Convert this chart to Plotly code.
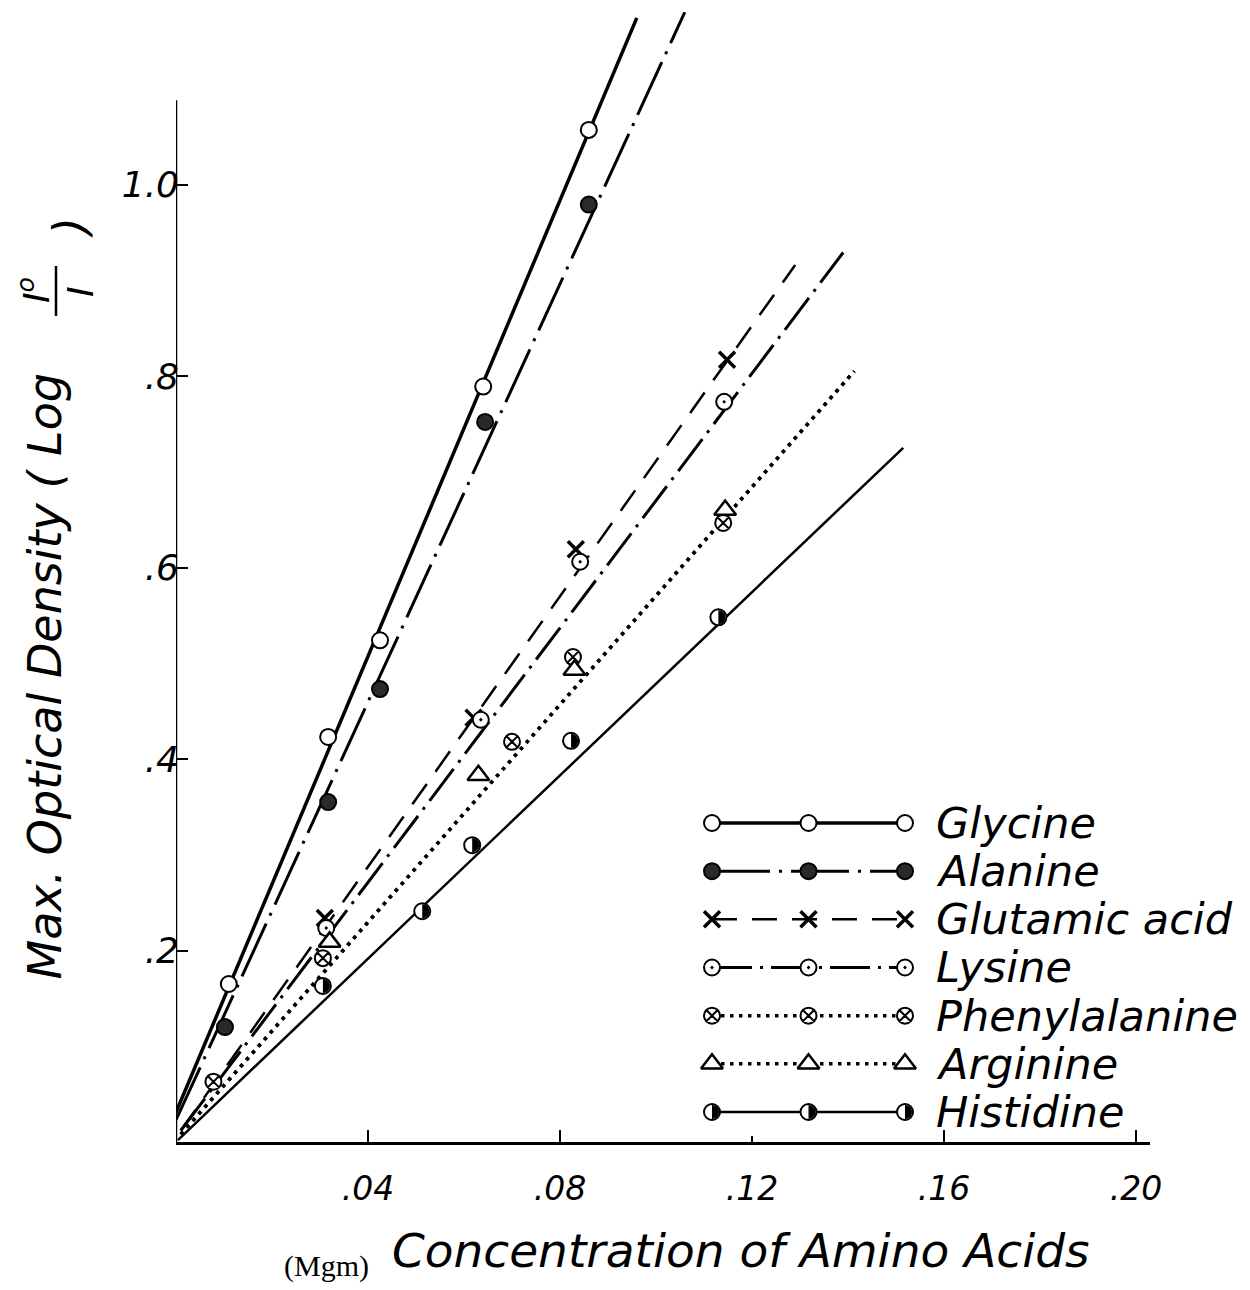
import math
import plotly.graph_objects as go

# ---------------- data ----------------
series_names = ["Glycine", "Alanine", "Glutamic acid", "Lysine",
                "Phenylalanine", "Arginine", "Histidine"]

glycine_x = [0.011, 0.0317, 0.0425, 0.064, 0.086]
glycine_y = [0.165, 0.423, 0.524, 0.789, 1.057]
alanine_x = [0.0102, 0.0317, 0.0425, 0.0644, 0.086]
alanine_y = [0.120, 0.355, 0.473, 0.752, 0.979]
glutamic_x = [0.031, 0.062, 0.0833, 0.1148]
glutamic_y = [0.234, 0.443, 0.619, 0.817]
lysine_x = [0.0313, 0.0635, 0.0842, 0.1142]
lysine_y = [0.2235, 0.441, 0.606, 0.773]
phenyl_x = [0.0078, 0.0306, 0.070, 0.0827, 0.114]
phenyl_y = [0.063, 0.192, 0.418, 0.5065, 0.6465]
arginine_x = [0.032, 0.063, 0.083, 0.1144]
arginine_y = [0.209, 0.383, 0.493, 0.660]
histidine_x = [0.0306, 0.0513, 0.0617, 0.0823, 0.113]
histidine_y = [0.163, 0.241, 0.310, 0.419, 0.548]

# drawn straight lines (end points)
glycine_fit_x, glycine_fit_y = [0.0, 0.096], [0.031, 1.174]
alanine_fit_x, alanine_fit_y = [0.0, 0.106], [0.023, 1.180]
glutamic_fit_x, glutamic_fit_y = [0.001, 0.129], [0.012, 0.916]
lysine_fit_x, lysine_fit_y = [0.001, 0.139], [0.012, 0.929]
phenyl_fit_x, phenyl_fit_y = [0.001, 0.1413], [0.008, 0.805]
arginine_fit_x, arginine_fit_y = [0.001, 0.1413], [0.008, 0.805]
histidine_fit_x, histidine_fit_y = [0.0004, 0.1515], [0.002, 0.725]

x_tick_vals = [0.04, 0.08, 0.12, 0.16, 0.20]
x_tick_text = [".04", ".08", ".12", ".16", ".20"]
y_tick_vals = [0.2, 0.4, 0.6, 0.8, 1.0]
y_tick_text = [".2", ".4", ".6", ".8", "1.0"]
y_axis_top = 1.088

# ---------------- layout geometry ----------------
W, H = 1250, 1290
OFF = 8  # page offset of the plot div
ML, MR, MT, MB = 168, 108, 4, 156
PW, PH = W - ML - MR, H - MT - MB
X_PX_PER_UNIT = 4800.0
Y_PX_PER_UNIT = 957.5
X_MAX = PW / X_PX_PER_UNIT
Y_MAX = PH / Y_PX_PER_UNIT


def px(x):
    return (x - OFF - ML) / PW


def py(y):
    return (H - MB - (y - OFF)) / PH


FONT = "DejaVu Sans"
INK = "black"

styles = {
    "Glycine": dict(dash="solid", width=3.5,
                    marker=dict(symbol="circle", size=16, color="white",
                                line=dict(color=INK, width=2))),
    "Alanine": dict(dash="58px,9px,3px,9px", width=3,
                    marker=dict(symbol="circle", size=16, color="#2a2a2a",
                                line=dict(color=INK, width=2))),
    "Glutamic acid": dict(dash="25px,15px", width=2.5,
                          marker=dict(symbol="x-thin", size=16,
                                      line=dict(color=INK, width=3.5))),
    "Lysine": dict(dash="40px,8px,3px,8px", width=3,
                   marker=dict(symbol="circle-dot", size=16, color="white",
                               line=dict(color=INK, width=2))),
    "Phenylalanine": dict(dash="3.5px,5.5px", width=3.5,
                          marker=dict(symbol="circle-x", size=16, color="white",
                                      line=dict(color=INK, width=2))),
    "Arginine": dict(dash="3.5px,5.5px", width=3.5,
                     marker=dict(symbol="triangle-up", size=19, color="white",
                                 line=dict(color=INK, width=2.5))),
    # half-filled circle: white circle, right half blacked in (see below)
    "Histidine": dict(dash="solid", width=2.5,
                      marker=dict(symbol="circle", size=16, color="white",
                                  line=dict(color=INK, width=2))),
}
HALF_R = 7.0  # radius (px) of the blacked-in half

points = {
    "Glycine": (glycine_x, glycine_y),
    "Alanine": (alanine_x, alanine_y),
    "Glutamic acid": (glutamic_x, glutamic_y),
    "Lysine": (lysine_x, lysine_y),
    "Phenylalanine": (phenyl_x, phenyl_y),
    "Arginine": (arginine_x, arginine_y),
    "Histidine": (histidine_x, histidine_y),
}
fits = {
    "Glycine": (glycine_fit_x, glycine_fit_y),
    "Alanine": (alanine_fit_x, alanine_fit_y),
    "Glutamic acid": (glutamic_fit_x, glutamic_fit_y),
    "Lysine": (lysine_fit_x, lysine_fit_y),
    "Phenylalanine": (phenyl_fit_x, phenyl_fit_y),
    "Arginine": (arginine_fit_x, arginine_fit_y),
    "Histidine": (histidine_fit_x, histidine_fit_y),
}

fig = go.Figure()


def half_disk(xc, yc, sx, sy, xref, yref):
    """Right half of a disk around a data point, sized in pixels."""
    n = 16
    pts = []
    for k in range(n + 1):
        t = -math.pi / 2 + math.pi * k / n
        pts.append((xc + HALF_R * math.cos(t) / sx, yc + HALF_R * math.sin(t) / sy))
    path = "M " + " L ".join(f"{a:.6f},{b:.6f}" for a, b in pts) + " Z"
    fig.add_shape(type="path", path=path, xref=xref, yref=yref,
                  fillcolor=INK, line=dict(width=0), layer="above")


def add_points(xs, ys, name, sx, sy, xref="x", yref="y", **axes):
    fig.add_trace(go.Scatter(x=xs, y=ys, mode="markers", name=name,
                             marker=styles[name]["marker"], cliponaxis=False,
                             showlegend=False, **axes))
    if name == "Histidine":
        for xc, yc in zip(xs, ys):
            half_disk(xc, yc, sx, sy, xref, yref)


# lines first
for name in series_names:
    st = styles[name]
    fx, fy = fits[name]
    fig.add_trace(go.Scatter(x=fx, y=fy, mode="lines", name=name,
                             line=dict(color=INK, width=st["width"], dash=st["dash"]),
                             showlegend=False, hoverinfo="skip"))

# then points
for name in series_names:
    xs, ys = points[name]
    add_points(xs, ys, name, X_PX_PER_UNIT, Y_PX_PER_UNIT)

# ---------------- hand-drawn style legend (own small axes) ----------------
leg_pos = [0.0, 0.5, 1.0]
LEG_X0, LEG_X1 = 712, 905      # page px of first / last legend marker
LEG_Y0, LEG_Y1 = 823, 1112     # page px of first / last legend row
n_rows = len(series_names)
leg_sx = (LEG_X1 - LEG_X0) / 1.0
leg_sy = (LEG_Y1 - LEG_Y0) / (n_rows - 1)
PADX, PADY = 0.1, 0.5          # padding (axis units) so nothing is clipped
for i, name in enumerate(series_names):
    st = styles[name]
    row = [i] * len(leg_pos)
    fig.add_trace(go.Scatter(x=leg_pos, y=row, xaxis="x2", yaxis="y2", mode="lines",
                             line=dict(color=INK, width=st["width"], dash=st["dash"]),
                             showlegend=False, hoverinfo="skip"))
    add_points(leg_pos, row, name, leg_sx, leg_sy, xref="x2", yref="y2",
               xaxis="x2", yaxis="y2")
    fig.add_annotation(x=px(934), xref="paper", y=i, yref="y2",
                       text=name, showarrow=False, xanchor="left", yanchor="middle",
                       font=dict(family=FONT, size=43, color=INK, style="italic"))

# ---------------- axis titles ----------------
fig.add_annotation(x=px(326), y=py(1266), xref="paper", yref="paper",
                   text="(Mgm)", showarrow=False, xanchor="center", yanchor="middle",
                   font=dict(family="Liberation Serif", size=30, color=INK))
fig.add_annotation(x=px(390), y=py(1250), xref="paper", yref="paper",
                   text="Concentration of Amino Acids", showarrow=False,
                   xanchor="left", yanchor="middle",
                   font=dict(family=FONT, size=47, color=INK, style="italic"))

fig.add_annotation(x=px(44), y=py(982), xref="paper", yref="paper",
                   text="Max. Optical Density ( Log", showarrow=False, textangle=-90,
                   xanchor="center", yanchor="bottom",
                   font=dict(family=FONT, size=46, color=INK, style="italic"))
fig.add_annotation(x=px(34), y=py(290), xref="paper", yref="paper",
                   text="I<sup>o</sup>", showarrow=False, textangle=-90,
                   xanchor="center", yanchor="middle",
                   font=dict(family=FONT, size=36, color=INK, style="italic"))
fig.add_annotation(x=px(80), y=py(292), xref="paper", yref="paper",
                   text="I", showarrow=False, textangle=-90,
                   xanchor="center", yanchor="middle",
                   font=dict(family=FONT, size=36, color=INK, style="italic"))
fig.add_annotation(x=px(70), y=py(228), xref="paper", yref="paper",
                   text=")", showarrow=False, textangle=-90,
                   xanchor="center", yanchor="middle",
                   font=dict(family=FONT, size=46, color=INK, style="italic"))
fig.add_shape(type="line", xref="paper", yref="paper",
              x0=px(56), x1=px(56), y0=py(266), y1=py(316),
              line=dict(color=INK, width=2.5))

# y axis line (ends below the top of the drawing)
fig.add_shape(type="line", xref="x", yref="y", x0=0, x1=0, y0=0, y1=y_axis_top,
              line=dict(color=INK, width=2.5))

fig.update_layout(
    width=W, height=H,
    margin=dict(l=ML, r=MR, t=MT, b=MB, pad=0),
    paper_bgcolor="white", plot_bgcolor="white",
    showlegend=False,
    xaxis=dict(range=[0, X_MAX], showgrid=False, zeroline=False,
               showline=True, linecolor=INK, linewidth=2.5,
               ticks="inside", ticklen=12, tickwidth=2, tickcolor=INK,
               tickvals=x_tick_vals, ticktext=x_tick_text,
               ticklabelstandoff=16,
               tickfont=dict(family=FONT, size=33, color=INK, style="italic")),
    yaxis=dict(range=[0, Y_MAX], showgrid=False, zeroline=False,
               showline=False,
               ticks="inside", ticklen=12, tickwidth=2, tickcolor=INK,
               tickvals=y_tick_vals, ticktext=y_tick_text,
               ticklabelstandoff=-4,
               tickfont=dict(family=FONT, size=36, color=INK, style="italic")),
    xaxis2=dict(domain=[px(LEG_X0 - PADX * leg_sx), px(LEG_X1 + PADX * leg_sx)],
                anchor="y2", range=[-PADX, 1 + PADX],
                visible=False, fixedrange=True),
    yaxis2=dict(domain=[py(LEG_Y1 + PADY * leg_sy), py(LEG_Y0 - PADY * leg_sy)],
                anchor="x2", range=[n_rows - 1 + PADY, -PADY],
                visible=False, fixedrange=True),
)

fig.write_html("out.html")
